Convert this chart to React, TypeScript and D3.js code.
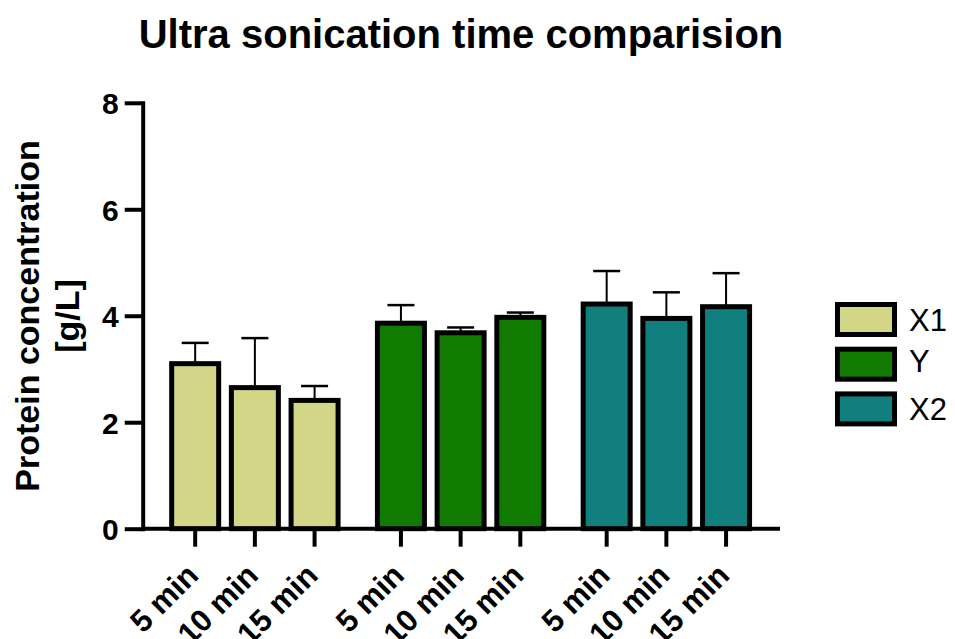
import { useEffect, useRef } from "react";
import * as d3 from "d3";

const WIDTH = 955;
const HEIGHT = 639;
const FONT = "'Liberation Sans', Arial, Helvetica, sans-serif";

// data (mean and SD, upper error bar only)
const groups = ["X1", "Y", "X2"];
const times = ["5 min", "10 min", "15 min"];
const colors = ["#D3D686", "#117A00", "#107F7E"];
const x1Mean = [3.1, 2.65, 2.41];
const x1Sd = [0.39, 0.93, 0.27];
const yMean = [3.86, 3.68, 3.97];
const ySd = [0.34, 0.1, 0.09];
const x2Mean = [4.22, 3.95, 4.17];
const x2Sd = [0.62, 0.49, 0.63];
const yTicks = [0, 2, 4, 6, 8];

const means = [x1Mean, yMean, x2Mean];
const sds = [x1Sd, ySd, x2Sd];

const App = () => {
  const yAxisRef = useRef(null);

  // scales
  const yScale = d3.scaleLinear().domain([0, 8]).range([528.7, 102.8]);
  const xGroup = d3.scaleBand().domain(groups).range([152, 769.25]);
  const xTime = d3
    .scaleBand()
    .domain(times)
    .range([0, xGroup.bandwidth()])
    .paddingInner(0.2127)
    .paddingOuter(0.3296);

  // y axis with d3
  useEffect(() => {
    const g = d3.select(yAxisRef.current);
    g.selectAll("*").remove();
    const axis = d3
      .axisLeft(yScale)
      .tickValues(yTicks)
      .tickSize(18)
      .tickSizeOuter(0)
      .tickPadding(6);
    g.call(axis);
    g.select(".domain").attr("stroke", "#000").attr("stroke-width", 4).attr("stroke-linecap", "square");
    g.selectAll(".tick line").attr("stroke", "#000").attr("stroke-width", 4);
    g.selectAll(".tick text")
      .attr("fill", "#000")
      .attr("dy", "0.36em")
      .style("font-size", "30px")
      .style("font-weight", "bold")
      .style("font-family", FONT);
  }, []);

  const bars = groups.flatMap((grp, gi) =>
    times.map((t, ti) => {
      const x = (xGroup(grp) as number) + (xTime(t) as number);
      const w = xTime.bandwidth();
      const cx = x + w / 2;
      const m = means[gi][ti];
      const top = yScale(m + sds[gi][ti]);
      return (
        <g key={grp + t}>
          <line x1={cx} x2={cx} y1={yScale(m)} y2={top} stroke="#000" strokeWidth={2} />
          <line x1={cx - 13.5} x2={cx + 13.5} y1={top} y2={top} stroke="#000" strokeWidth={2.5} />
          <rect
            x={x}
            y={yScale(m)}
            width={w}
            height={yScale(0) - yScale(m)}
            fill={colors[gi]}
            stroke="#000"
            strokeWidth={5}
          />
        </g>
      );
    })
  );

  const xTicks = groups.flatMap((grp) =>
    times.map((t) => {
      const cx = (xGroup(grp) as number) + (xTime(t) as number) + xTime.bandwidth() / 2;
      return (
        <g key={"tick" + grp + t}>
          <line x1={cx} x2={cx} y1={yScale(0)} y2={yScale(0) + 18} stroke="#000" strokeWidth={4} />
          <text
            transform={`translate(${cx + 5},577) rotate(-45)`}
            textAnchor="end"
            fontSize={31}
            fontWeight="bold"
            fontFamily={FONT}
          >
            {t}
          </text>
        </g>
      );
    })
  );

  return (
    <svg
      width={WIDTH}
      height={HEIGHT}
      style={{ position: "absolute", left: 0, top: 0, background: "#fff" }}
    >
      <text x={461} y={48} textAnchor="middle" fontSize={40} fontWeight="bold" fontFamily={FONT}>
        Ultra sonication time comparision
      </text>

      <text
        transform="translate(39,316) rotate(-90)"
        textAnchor="middle"
        fontSize={34}
        fontWeight="bold"
        fontFamily={FONT}
      >
        <tspan x={0} y={0}>Protein concentration</tspan>
        <tspan x={0} y={40}>[g/L]</tspan>
      </text>

      {bars}

      <line x1={141} x2={780} y1={yScale(0)} y2={yScale(0)} stroke="#000" strokeWidth={4} />
      {xTicks}
      <g ref={yAxisRef} transform="translate(142.7,0)" />

      {/* legend */}
      {groups.map((grp, i) => (
        <g key={"leg" + grp} transform={`translate(837.5,${304.5 + i * 44.7})`}>
          <rect width={57} height={30} fill={colors[i]} stroke="#000" strokeWidth={5} />
          <text x={71.5} y={i === 1 ? 23 : 26} fontSize={31} fontFamily={FONT}>
            {grp}
          </text>
        </g>
      ))}
    </svg>
  );
};

export default App;
